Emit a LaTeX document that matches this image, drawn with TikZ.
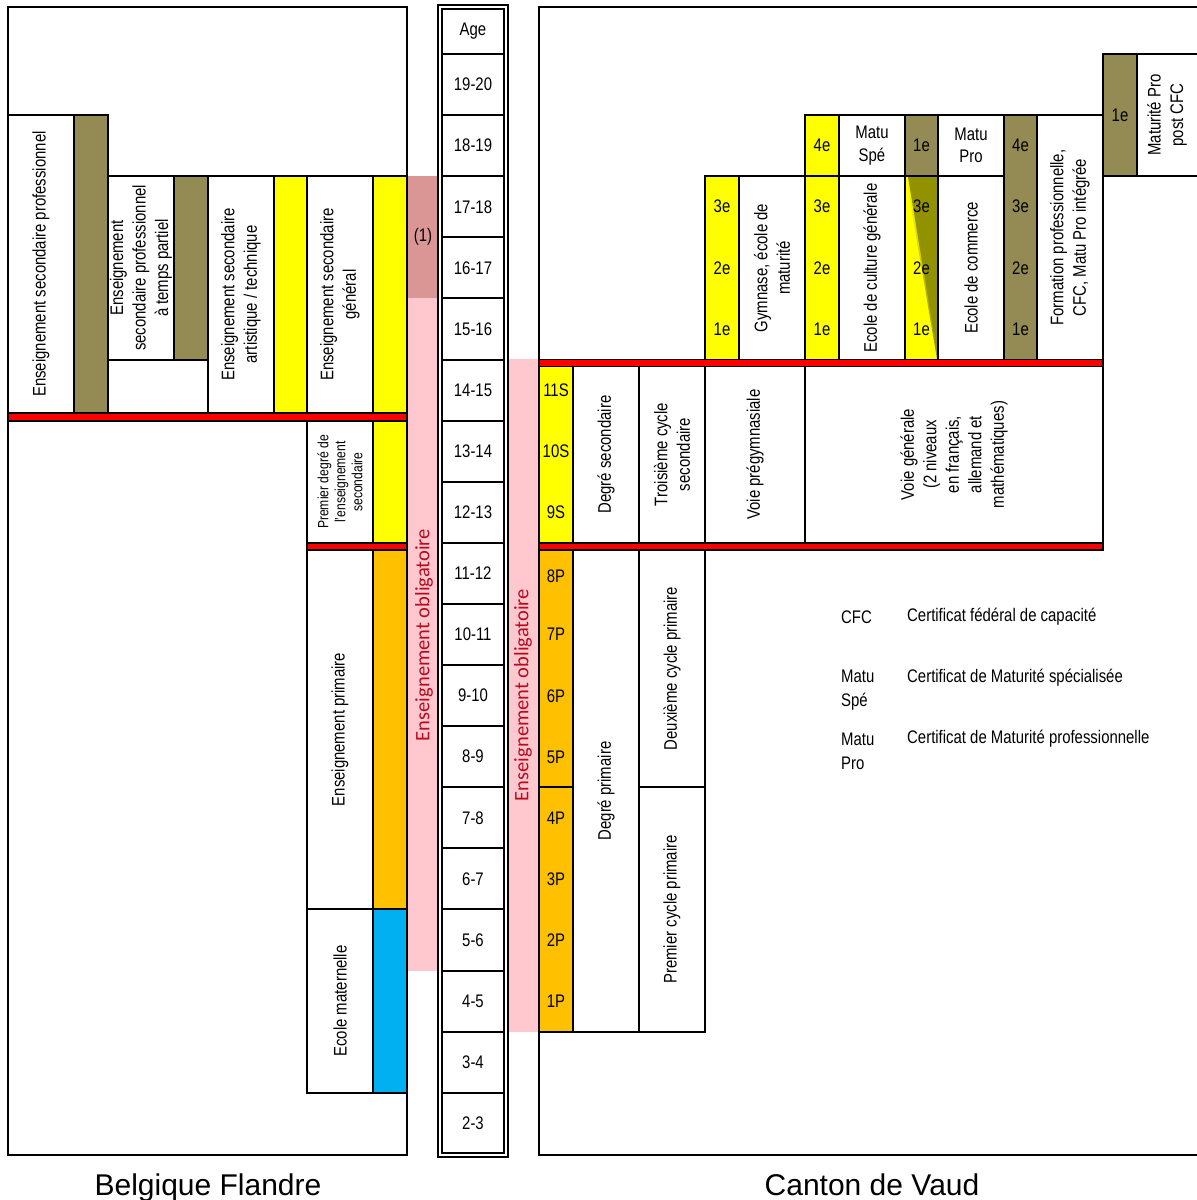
\documentclass[tikz,border=0pt]{standalone}
\usepackage{fontspec}
\setmainfont[FakeStretch=0.82]{Liberation Sans}
\newfontfamily\widefont{Liberation Sans}
\newfontfamily\califont{Carlito}
\definecolor{olivec}{RGB}{148,138,84}
\definecolor{yell}{RGB}{255,255,0}
\definecolor{oran}{RGB}{255,192,0}
\definecolor{bluec}{RGB}{0,176,240}
\definecolor{pinkc}{RGB}{255,199,206}
\definecolor{dpink}{RGB}{217,150,148}
\definecolor{obred}{RGB}{185,10,30}
\definecolor{gradol}{RGB}{146,146,0}
\newcommand\mkcell[6]{%
  \pgfmathsetmacro\cw{#4-#2}\pgfmathsetmacro\ch{#5-#3}%
  \node[box,fill=#6,minimum width=\cw pt,minimum height=\ch pt] (#1) at ({(#2+#4)/2},{(#3+#5)/2}) {};}
\tikzset{
  box/.style={draw=black,line width=2pt,inner sep=0pt,outer sep=0pt},
  lbl/.style={font=\fontsize{18.2}{22.5}\selectfont,align=center,inner sep=0pt},
  vlbl/.style={lbl,rotate=90},
  small/.style={font=\fontsize{14.8}{17}\selectfont,align=center,inner sep=0pt,rotate=90},
  redbar/.style={fill=red,draw=black,line width=1.5pt},
  panel/.style={draw=black,line width=2pt},
  oblig/.style={font=\califont\fontsize{20.5}{24}\selectfont,text=obred,rotate=90,inner sep=0pt},
  big/.style={font=\widefont\fontsize{30}{36}\selectfont,inner sep=0pt,anchor=base},
  legl/.style={lbl,anchor=west,align=left}
}
\begin{document}
\begin{tikzpicture}[x=1pt,y=-1pt]
\useasboundingbox (0,0) rectangle (1197,1200);
% pink bands
\fill[pinkc] (407,176) rectangle (438,971);
\fill[dpink] (407,176) rectangle (438,298);
\fill[pinkc] (508,359) rectangle (539,1032);
% panels
\draw[panel] (8,7) rectangle (407,1155);
\draw[panel] (1199,7) -- (539,7) -- (539,1155) -- (1199,1155);
% age column
\draw[line width=1.6pt] (438,5) rectangle (508,1157);
\draw[line width=1.6pt] (442,9) rectangle (504,1153);
\node[lbl] (agehead) at (473,31.5) {Age};
\draw[line width=2pt] (442,54) -- (504,54);
\foreach \i in {0,...,17}{
  \pgfmathtruncatemacro\lo{19-\i}\pgfmathtruncatemacro\hi{20-\i}
  \node[lbl] (age\i) at (473,{54+61.1*(\i+0.5)}) {\lo-\hi};
  \ifnum\i>0 \draw[line width=2pt] (442,{54+61.1*\i}) -- (504,{54+61.1*\i}); \fi
}
% left panel cells
\mkcell{L1}{8}{115}{74}{413}{white}
\mkcell{L1b}{74}{115}{108}{413}{olivec}
\mkcell{L2}{108}{176}{174}{360}{white}
\mkcell{L2b}{174}{176}{208}{360}{olivec}
\mkcell{L2c}{108}{360}{208}{413}{white}
\mkcell{L3}{208}{176}{274}{413}{white}
\mkcell{L3b}{274}{176}{307}{413}{yell}
\mkcell{L4}{307}{176}{373}{413}{white}
\mkcell{L4b}{373}{176}{407}{413}{yell}
\mkcell{L5}{307}{421}{373}{543}{white}
\mkcell{L5b}{373}{421}{407}{543}{yell}
\mkcell{L6}{307}{550}{373}{909}{white}
\mkcell{L6b}{373}{550}{407}{909}{oran}
\mkcell{L7}{307}{909}{373}{1093}{white}
\mkcell{L7b}{373}{909}{407}{1093}{bluec}
\draw[redbar] (8,413) rectangle (407,421);
\draw[redbar] (307,543) rectangle (407,550);
% right panel upper cells
\mkcell{G1}{705}{176}{739}{360}{yell}
\mkcell{G2}{739}{176}{805}{360}{white}
\mkcell{C1}{805}{115}{839}{176}{yell}
\mkcell{C2}{805}{176}{839}{360}{yell}
\mkcell{C3}{839}{115}{905}{176}{white}
\mkcell{C4}{839}{176}{905}{360}{white}
\mkcell{D1}{905}{115}{938}{176}{olivec}
\mkcell{D2}{905}{176}{938}{360}{yell}
\shade[left color=yell,right color=gradol,shading angle=0] (906,177) -- (937,177) -- (937,359) -- cycle;
\fill[gradol] (908,177) -- (937,177) -- (937,352) -- cycle;
\draw[line width=2pt] (D2.north west) rectangle (D2.south east);
\mkcell{D3}{938}{115}{1004}{176}{white}
\mkcell{D4}{938}{176}{1004}{360}{white}
\mkcell{E1}{1004}{115}{1037}{360}{olivec}
\mkcell{E2}{1037}{115}{1103}{360}{white}
\mkcell{F1}{1103}{54}{1137}{176}{olivec}
\mkcell{F2}{1137}{54}{1200}{176}{white}
% right panel secondary
\mkcell{S0}{539}{366}{573}{543}{yell}
\mkcell{S1}{573}{366}{639}{543}{white}
\mkcell{S2}{639}{366}{705}{543}{white}
\mkcell{S3}{705}{366}{805}{543}{white}
\mkcell{S4}{805}{366}{1103}{543}{white}
\draw[redbar] (539,359.5) rectangle (1103,366.5);
\draw[redbar] (539,543) rectangle (1103,550);
% right panel primary
\mkcell{P1}{539}{550}{573}{787}{oran}
\mkcell{P2}{539}{787}{573}{1032}{oran}
\mkcell{P3}{573}{550}{639}{1032}{white}
\mkcell{P4}{639}{550}{705}{787}{white}
\mkcell{P5}{639}{787}{705}{1032}{white}
% left labels
\node[vlbl] (t1) at (L1) {Enseignement secondaire professionnel};
\node[vlbl] (t2) at (L2) {Enseignement\\secondaire professionnel\\à temps partiel};
\node[vlbl] (t3) at (L3) {Enseignement secondaire\\artistique / technique};
\node[vlbl] (t4) at (L4) {Enseignement secondaire\\général};
\node[small] (t5) at (L5) {Premier degré de\\l'enseignement\\secondaire};
\node[vlbl] (t6) at (L6) {Enseignement primaire};
\node[vlbl] (t7) at (L7) {Ecole maternelle};
\node[lbl] (one) at (423,237) {(1)};
\node[oblig] (ob1) at (424,635) {Enseignement obligatoire};
\node[oblig] (ob2) at (523,695) {Enseignement obligatoire};
% right upper labels
\foreach \n/\y in {3e/206.7,2e/267.8,1e/328.9}{
  \node[lbl] at (722,\y) {\n};
  \node[lbl] at (822,\y) {\n};
  \node[lbl] at (921.5,\y) {\n};
  \node[lbl] at (1020.5,\y) {\n};
}
\node[lbl] (c1t) at (C1) {4e};
\node[lbl] (d1t) at (D1) {1e};
\node[lbl] (e1t) at (1020.5,145.6) {4e};
\node[lbl] (f1t) at (F1) {1e};
\node[vlbl] (gym) at (772,268) {Gymnase, école de\\maturité};
\node[lbl] (mspe) at (C3) {Matu\\Spé};
\node[vlbl] (ecg) at (C4) {Ecole de culture générale};
\node[lbl] (mpro) at (D3) {Matu\\Pro};
\node[vlbl] (eco) at (D4) {Ecole de commerce};
\node[vlbl] (form) at (E2) {Formation professionnelle,\\CFC, Matu Pro intégrée};
\node[vlbl] (mpcfc) at (1167,115) {Maturité Pro\\post CFC};
% right secondary labels
\node[lbl] at (556,390.4) {11S};
\node[lbl] at (556,451.5) {10S};
\node[lbl] at (556,512.6) {9S};
\node[vlbl] (dsec) at (S1) {Degré secondaire};
\node[vlbl] (tcs) at (S2) {Troisième cycle\\secondaire};
\node[vlbl] (vpg) at (S3) {Voie prégymnasiale};
\node[vlbl,font=\fontsize{18.2}{22.5}\selectfont] (vg) at (S4) {Voie générale\\(2 niveaux\\en français,\\allemand et\\mathématiques)};
% primary labels
\foreach \n/\y in {8P/576,7P/634.7,6P/695.8,5P/756.9,4P/818,3P/879.1,2P/940.2,1P/1001.3}{
  \node[lbl] at (556,\y) {\n};
}
\node[vlbl] (dpr) at (P3) {Degré primaire};
\node[vlbl] (dcp) at (P4) {Deuxième cycle primaire};
\node[vlbl] (pcp) at (P5) {Premier cycle primaire};
% legend
\node[legl] (lg1) at (841,617) {CFC};
\node[legl] (lg1t) at (907,617) {Certificat fédéral de capacité};
\node[legl,font=\fontsize{18.2}{24}\selectfont] (lg2) at (841,690) {Matu\\Spé};
\node[legl] (lg2t) at (907,678) {Certificat de Maturité spécialisée};
\node[legl,font=\fontsize{18.2}{24}\selectfont] (lg3) at (841,751) {Matu\\Pro};
\node[legl] (lg3t) at (907,739) {Certificat de Maturité professionnelle};
% titles
\node[big] (bf) at (208,1195) {Belgique Flandre};
\node[big] (cv) at (872,1195) {Canton de Vaud};
\end{tikzpicture}
\end{document}
